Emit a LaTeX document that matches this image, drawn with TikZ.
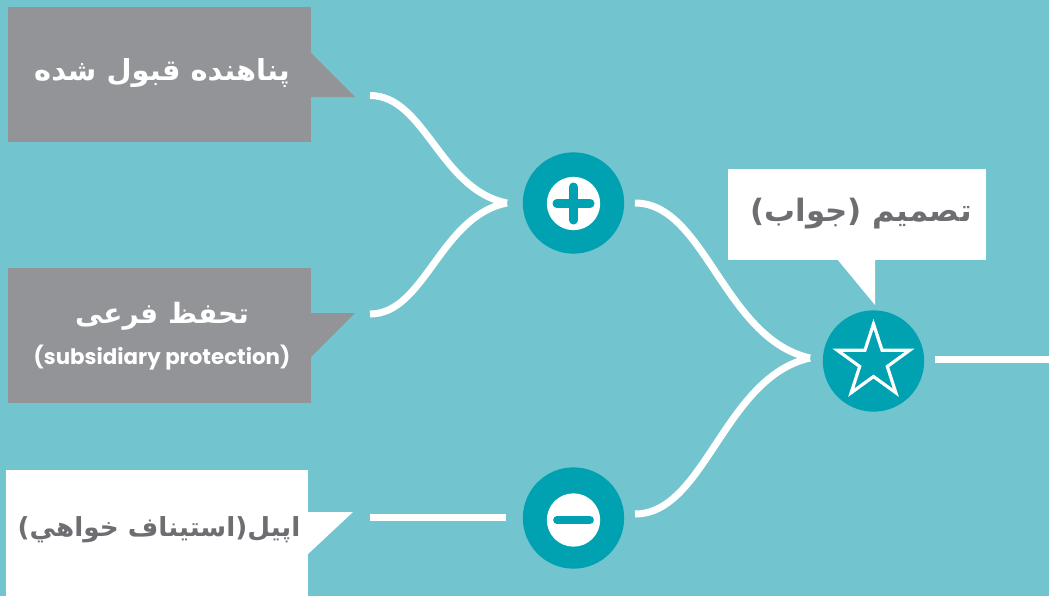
\documentclass[tikz,border=0pt]{standalone}
\usepackage{fontspec}
\TeXXeTstate=1
\newfontfamily\arabicfont[Script=Arabic]{DejaVu Sans}
\newfontfamily\latinfont{Poppins}
\definecolor{bgteal}{RGB}{114,197,207}
\definecolor{darkteal}{RGB}{0,161,176}
\definecolor{boxgray}{RGB}{147,148,152}
\definecolor{textgray}{RGB}{109,110,113}
\tikzset{
  flow/.style={draw=white, line width=5.25pt, line cap=butt},
  graybox/.style={fill=boxgray, draw=none, inner sep=0pt},
  whitebox/.style={fill=white, draw=none, inner sep=0pt},
  hub/.style={circle, fill=darkteal, draw=none, minimum size=76pt, inner sep=0pt},
  hubin/.style={circle, fill=white, draw=none, minimum size=40pt, inner sep=0pt},
  wlabel/.style={text=white, font=\arabicfont\bfseries\fontsize{21.7}{26}\selectfont},
  glabel/.style={text=textgray, font=\arabicfont\bfseries\fontsize{19.7}{24}\selectfont},
  elabel/.style={text=white, font=\latinfont\bfseries\fontsize{16}{19}\selectfont},
}
\begin{document}
\begin{tikzpicture}[x=0.75pt,y=-0.75pt]
\useasboundingbox (0,0) rectangle (1049,596);
\fill[bgteal] (0,0) rectangle (1049,596);

% boxes
\path[graybox] (8,7) rectangle (311,142);
\fill[boxgray] (310,52) -- (355,97) -- (310,97) -- cycle;
\path[graybox] (8,268) rectangle (311,403);
\fill[boxgray] (310,313) -- (355,313) -- (310,358) -- cycle;
\path[whitebox] (6,470) rectangle (308,596);
\fill[white] (307,512) -- (353,512) -- (307,555) -- cycle;
\path[whitebox] (728,169) rectangle (986,260);
\fill[white] (837,259) -- (875,305) -- (875,259) -- cycle;

% labels
\node[wlabel] (t1) at (162,73) {\beginR پناهنده قبول شده\endR};
\node[wlabel, font=\arabicfont\bfseries\fontsize{21}{25}\selectfont] (t2) at (162,316) {\beginR تحفظ فرعی\endR};
\node[elabel] (t2e) at (162,358) {(subsidiary protection)};
\node[glabel] (t3) at (159,530) {\beginR اپيل(استيناف خواهي)\endR};
\node[glabel, font=\arabicfont\bfseries\fontsize{23.1}{27}\selectfont] (t4) at (861,214) {\beginR تصمیم (جواب)\endR};

% hubs
\node[hub] (plus) at (573.5,203) {};
\node[hubin] (plusin) at (573.5,203.5) {};
\draw[darkteal, line width=6.5pt, line cap=round] ([xshift=-12.5pt]plusin.center) -- ([xshift=12.5pt]plusin.center);
\draw[darkteal, line width=6.5pt, line cap=round] ([yshift=-12.5pt]plusin.center) -- ([yshift=12.5pt]plusin.center);
\node[hub] (minus) at (573.5,518) {};
\node[hubin] (minusin) at (573.5,520) {};
\draw[darkteal, line width=5.5pt, line cap=round] ([xshift=-12.5pt]minusin.center) -- ([xshift=12.5pt]minusin.center);
\node[hub] (star) at (873.5,361) {};
\begin{scope}[shift={([yshift=-0.75pt]star.center)}]
\draw[white, line width=2.4pt, line join=miter]
  (90:28.5pt) -- (126:10.9pt) -- (162:28.5pt) -- (198:10.9pt) -- (234:28.5pt)
  -- (270:10.9pt) -- (306:28.5pt) -- (342:10.9pt) -- (18:28.5pt) -- (54:10.9pt) -- cycle;
\end{scope}

% connectors
\coordinate (a1) at (370,95.5);
\coordinate (a2) at (370,314);
\coordinate (a3) at (370,517);
\coordinate (pl) at (507,203);
\coordinate (pr) at (635,203);
\coordinate (ml) at (506,517);
\coordinate (mr) at (635,514);
\coordinate (sl) at (810,358);
\coordinate (sr) at (935,359);
\coordinate (out) at (1049,359);
\draw[flow] (a1) .. controls (425,95.5) and (440,190) .. (pl);
\draw[flow] (a2) .. controls (425,314) and (440,216) .. (pl);
\draw[flow] (a3) -- (ml);
\draw[flow] (pr) .. controls (705,203) and (724,339) .. (sl);
\draw[flow] (mr) .. controls (705,514) and (724,377) .. (sl);
\draw[flow] (sr) -- (out);
\end{tikzpicture}
\end{document}
